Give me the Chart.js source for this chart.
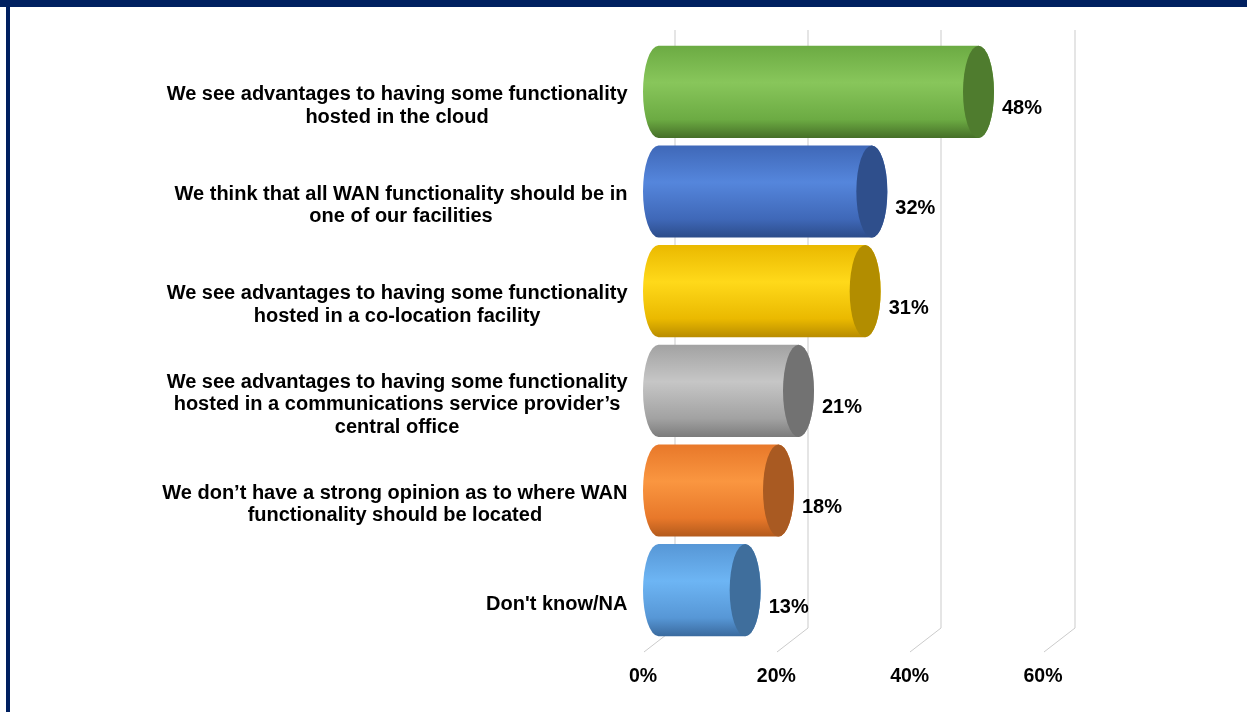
<!DOCTYPE html>
<html>
<head>
<meta charset="utf-8">
<script src="https://cdn.jsdelivr.net/npm/chart.js@4.4.1/dist/chart.umd.min.js"></script>
<style>
  html, body { margin: 0; padding: 0; background: #fff; overflow: hidden; }
  #topbar { position: absolute; left: 0; top: 0; width: 1247px; height: 7px; background: #002060; }
  #leftbar { position: absolute; left: 6px; top: 0; width: 4px; height: 712px; background: #002060; }
  #wrap { position: absolute; left: 0; top: 0; width: 1247px; height: 712px; }
</style>
</head>
<body>
<div id="topbar"></div>
<div id="leftbar"></div>
<div id="wrap"><canvas id="chart"></canvas></div>
<script>
// Data
const categories = [
  ["We see advantages to having some functionality", "hosted in the cloud"],
  ["We think that all WAN functionality should be in", "one of our facilities"],
  ["We see advantages to having some functionality", "hosted in a co-location facility"],
  ["We see advantages to having some functionality", "hosted in a communications service provider\u2019s", "central office"],
  ["We don\u2019t have a strong opinion as to where WAN", "functionality should be located"],
  ["Don't know/NA"]
];
const values = [48, 32, 31, 21, 18, 13];
const xTicks = [0, 20, 40, 60];

// Cylinder colours (edge, highlight, shadow, end cap)
const edgeColors = ["#6cab43", "#3f68b8", "#eab900", "#a2a2a2", "#e8782a", "#5797d6"];
const lightColors = ["#88c65b", "#5586dc", "#ffd91a", "#c6c6c6", "#fa9640", "#6db5f4"];
const darkColors = ["#466f28", "#2c4c8a", "#b88c00", "#7c7c7c", "#b35a1c", "#3a6a9e"];
const capColors = ["#4f7c2e", "#2f4f8c", "#b28d00", "#727272", "#a95a22", "#3f6e9c"];

const DEPTH_X = 15.5, DEPTH_Y = 12;
const FONT = "'Liberation Sans', Arial, sans-serif";

const cylinderPlugin = {
  id: "cylinders",
  beforeDatasetsDraw(chart) {
    const { ctx, chartArea, scales: { x } } = chart;
    ctx.save();
    ctx.strokeStyle = "#cbcbcb";
    ctx.lineWidth = 1;
    xTicks.forEach(v => {
      const px = Math.round(x.getPixelForValue(v)) + 0.5;
      ctx.beginPath();
      ctx.moveTo(px + DEPTH_X, chartArea.top - DEPTH_Y);
      ctx.lineTo(px + DEPTH_X, chartArea.bottom - DEPTH_Y);
      ctx.lineTo(px - DEPTH_X, chartArea.bottom + DEPTH_Y);
      ctx.stroke();
    });
    ctx.restore();
  },
  afterDatasetsDraw(chart) {
    const { ctx, chartArea } = chart;
    const meta = chart.getDatasetMeta(0);
    ctx.save();
    meta.data.forEach((bar, i) => {
      const r = bar.height / 2, a = DEPTH_X, b0 = bar.base, e = bar.x, c = bar.y;
      // body
      const g = ctx.createLinearGradient(0, c - r, 0, c + r);
      g.addColorStop(0, edgeColors[i]);
      g.addColorStop(0.4, lightColors[i]);
      g.addColorStop(0.8, edgeColors[i]);
      g.addColorStop(1, darkColors[i]);
      ctx.beginPath();
      ctx.moveTo(b0, c - r);
      ctx.lineTo(e, c - r);
      ctx.ellipse(e, c, a, r, 0, -Math.PI / 2, Math.PI / 2);
      ctx.lineTo(b0, c + r);
      ctx.ellipse(b0, c, a, r, 0, Math.PI / 2, Math.PI * 1.5);
      ctx.closePath();
      ctx.fillStyle = g;
      ctx.fill();
      // end cap
      ctx.beginPath();
      ctx.ellipse(e, c, a, r, 0, 0, Math.PI * 2);
      ctx.fillStyle = capColors[i];
      ctx.fill();
      // value label
      ctx.fillStyle = "#000";
      ctx.font = "bold 20px " + FONT;
      ctx.textAlign = "left";
      ctx.textBaseline = "middle";
      ctx.fillText(values[i] + "%", e + a + 8, c + 17);
    });

    // category labels: block right-aligned, lines centred
    const y = chart.scales.y;
    ctx.font = "bold 20px " + FONT;
    ctx.textAlign = "center";
    ctx.textBaseline = "middle";
    ctx.fillStyle = "#000";
    const right = chartArea.left - 2 * DEPTH_X;
    chart.data.labels.forEach((lines, i) => {
      const cy = y.getPixelForTick(i) + 14;
      const w = Math.max(...lines.map(l => ctx.measureText(l).width));
      const cx = right - w / 2;
      lines.forEach((l, j) => ctx.fillText(l, cx, cy + (j - (lines.length - 1) / 2) * 22.5));
    });
    ctx.restore();
  }
};

new Chart(document.getElementById("chart"), {
  type: "bar",
  data: {
    labels: categories,
    datasets: [{
      data: values,
      backgroundColor: "rgba(0,0,0,0)",
      barPercentage: 1,
      categoryPercentage: 0.925
    }]
  },
  options: {
    indexAxis: "y",
    responsive: true,
    maintainAspectRatio: false,
    animation: false,
    layout: { padding: { top: 42, right: 188.5, left: 0, bottom: 0 } },
    plugins: { legend: { display: false }, tooltip: { enabled: false } },
    scales: {
      x: {
        min: 0,
        max: 60,
        afterBuildTicks: s => { s.ticks = xTicks.map(v => ({ value: v })); },
        grid: { display: false },
        border: { display: false },
        ticks: {
          callback: v => v + "%",
          font: { family: FONT, size: 19.5, weight: "bold" },
          color: "#000",
          labelOffset: -DEPTH_X,
          padding: 17,
          maxRotation: 0
        },
        afterFit: s => { s.height = 72; }
      },
      y: {
        grid: { display: false },
        border: { display: false },
        ticks: { display: false },
        afterFit: s => { s.width = 658.5; }
      }
    }
  },
  plugins: [cylinderPlugin]
});
</script>
</body>
</html>
